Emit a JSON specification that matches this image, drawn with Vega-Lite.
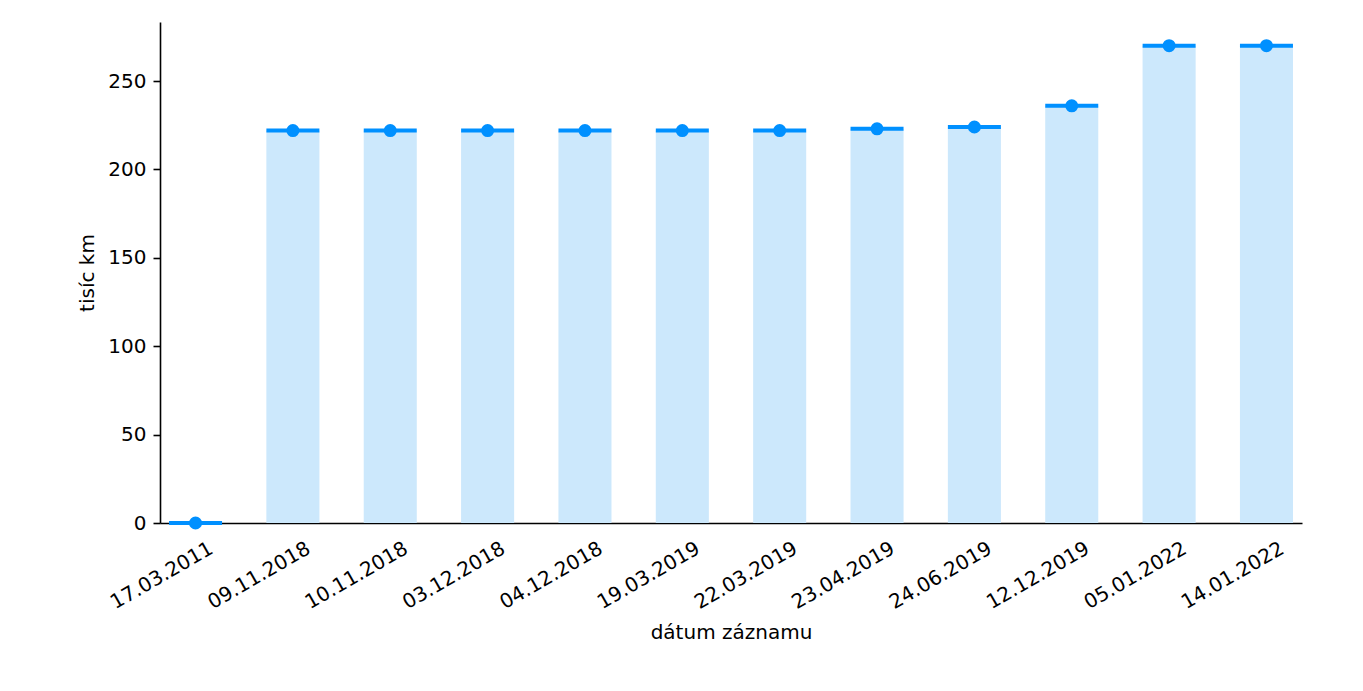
{
  "$schema": "https://vega.github.io/schema/vega-lite/v6.json",
  "width": 1142,
  "height": 501,
  "padding": {"left": 77, "top": 22, "right": 20, "bottom": 20},
  "background": "white",
  "config": {
    "view": {"stroke": null},
    "font": "DejaVu Sans",
    "axis": {
      "labelFont": "DejaVu Sans",
      "titleFont": "DejaVu Sans",
      "labelFontSize": 20,
      "titleFontSize": 20,
      "titleFontWeight": "normal",
      "labelColor": "#000000",
      "titleColor": "#000000",
      "domainColor": "#000000",
      "tickColor": "#000000",
      "domainWidth": 1.6,
      "tickWidth": 1.6,
      "grid": false
    }
  },
  "data": {
    "values": [
      {"datum": "17.03.2011", "km": 0},
      {"datum": "09.11.2018", "km": 222},
      {"datum": "10.11.2018", "km": 222},
      {"datum": "03.12.2018", "km": 222},
      {"datum": "04.12.2018", "km": 222},
      {"datum": "19.03.2019", "km": 222},
      {"datum": "22.03.2019", "km": 222},
      {"datum": "23.04.2019", "km": 223},
      {"datum": "24.06.2019", "km": 224},
      {"datum": "12.12.2019", "km": 236},
      {"datum": "05.01.2022", "km": 270},
      {"datum": "14.01.2022", "km": 270}
    ]
  },
  "encoding": {
    "x": {
      "field": "datum",
      "type": "nominal",
      "sort": null,
      "scale": {"paddingInner": 0.455, "paddingOuter": 0.0925},
      "axis": {
        "title": "dátum záznamu",
        "labelAngle": -30,
        "labelAlign": "right",
        "labelBaseline": "top",
        "labelOffset": 11,
        "labelPadding": 15,
        "ticks": false,
        "titlePadding": 10
      }
    },
    "y": {
      "field": "km",
      "type": "quantitative",
      "scale": {"domain": [0, 283.4], "nice": false, "zero": true},
      "axis": {
        "title": "tisíc km",
        "values": [0, 50, 100, 150, 200, 250],
        "tickSize": 7,
        "labelPadding": 7,
        "titlePadding": 10
      }
    }
  },
  "layer": [
    {"mark": {"type": "bar", "color": "#cce8fc"}},
    {"mark": {"type": "tick", "color": "#0090ff", "size": 53, "thickness": 4, "opacity": 1}},
    {"mark": {"type": "point", "filled": true, "color": "#0090ff", "size": 170, "opacity": 1}}
  ]
}
